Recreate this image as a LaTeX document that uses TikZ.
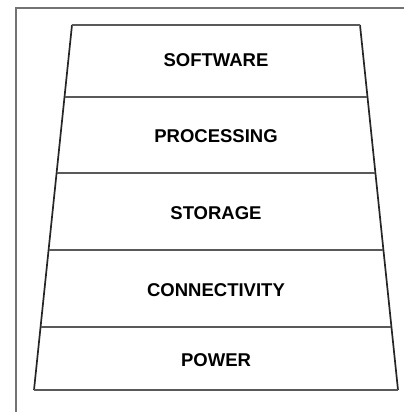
\documentclass[tikz,border=0pt]{standalone}
\usepackage{fontspec}
\setmainfont{Liberation Sans}
\usetikzlibrary{calc}
\tikzset{
  frameline/.style={draw=black!55,line width=2pt},
  sideline/.style={draw=black!85,line width=1.7pt},
  divline/.style={draw=black!65,line width=1.8pt},
  layertext/.style={font=\bfseries\fontsize{18.5}{19}\selectfont}
}
\newcommand{\layer}[3]{\node[layertext] (#1) at (216,#2) {#3};}
\newcommand{\divider}[1]{\draw[divline] ($(tl)!#1!(bl)$) -- ($(tr)!#1!(br)$);}

\begin{document}
\begin{tikzpicture}[x=1pt,y=-1pt]
    \useasboundingbox (0,0) rectangle (404,412);
    \draw[frameline] (16,412) -- (16,8) -- (404,8);
    \coordinate (tl) at (72,25); \coordinate (tr) at (360,25);
    \coordinate (bl) at (34,390); \coordinate (br) at (398,390);
    \draw[sideline] (tl) -- (bl); \draw[sideline] (tr) -- (br);
    \draw[divline] (tl) -- (tr); \draw[divline] (bl) -- (br);
    \divider{0.197}\divider{0.405}\divider{0.616}\divider{0.827}
    \layer{software}{60}{SOFTWARE}
    \layer{processing}{136}{PROCESSING}
    \layer{storage}{213}{STORAGE}
    \layer{connectivity}{290}{CONNECTIVITY}
    \layer{power}{360}{POWER}
\end{tikzpicture}
\end{document}
